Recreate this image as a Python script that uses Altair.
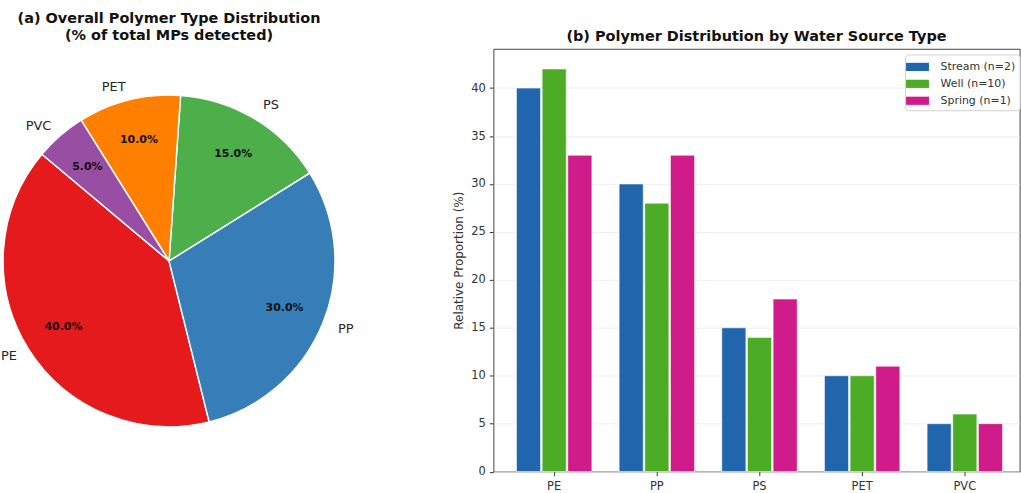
import math
import altair as alt
import pandas as pd

# ---------------- data ----------------
polymers = ["PE", "PP", "PS", "PET", "PVC"]
overall_pct = [40, 30, 15, 10, 5]

sources = ["Stream (n=2)", "Well (n=10)", "Spring (n=1)"]
stream_vals = [40, 30, 15, 10, 5]
well_vals = [42, 28, 14, 10, 6]
spring_vals = [33, 33, 18, 11, 5]

y_ticks = [0, 5, 10, 15, 20, 25, 30, 35, 40]

pie_colors = ["#e41a1c", "#377eb8", "#4daf4a", "#ff7f00", "#984ea3"]
bar_colors = ["#2166ac", "#4dac26", "#d01c8b"]

FONT = "DejaVu Sans"
START_DEG = 310
START = math.radians(START_DEG)

pie_df = pd.DataFrame({"polymer": polymers, "pct": overall_pct, "idx": list(range(len(polymers)))})

rows = []
for s, vals in zip(sources, [stream_vals, well_vals, spring_vals]):
    for p, v in zip(polymers, vals):
        rows.append({"polymer": p, "source": s, "value": v})
bar_df = pd.DataFrame(rows)

# ---------------- pie ----------------
R = 166.6
base = alt.Chart(pie_df).encode(
    theta=alt.Theta("pct:Q", stack=True,
                    scale=alt.Scale(range=[START, START + 2 * math.pi])),
    order=alt.Order("idx:Q", sort="descending"),
)

arcs = base.mark_arc(outerRadius=R, stroke="white", strokeWidth=1.5).encode(
    color=alt.Color("polymer:N", scale=alt.Scale(domain=polymers, range=pie_colors), legend=None)
)

pct_text = base.mark_text(radius=125, fontWeight="bold", fontSize=11, color="#111",
                          font=FONT).encode(
    text="pct_label:N"
).transform_calculate(pct_label="format(datum.pct, '.1f') + '%'")

side = (
    base.transform_joinaggregate(total="sum(pct)")
    .transform_window(cum="sum(pct)", sort=[alt.SortField("idx", order="descending")])
    .transform_calculate(
        mid=f"({START_DEG} + (datum.cum - datum.pct / 2) / datum.total * 360) * PI / 180"
    )
    .transform_calculate(
        lbl_left="sin(datum.mid) < 0 ? datum.polymer : ''",
        lbl_right="sin(datum.mid) >= 0 ? datum.polymer : ''",
    )
)
lab_left = side.mark_text(radius=180, align="right", baseline="middle", fontSize=13,
                          color="#262626", font=FONT).encode(text="lbl_left:N")
lab_right = side.mark_text(radius=183, align="left", baseline="middle", fontSize=13,
                           color="#262626", font=FONT).encode(text="lbl_right:N")

pie = alt.layer(arcs, pct_text, lab_left, lab_right).properties(
    width=333.4,
    height=426,
    title=alt.TitleParams(
        text=["(a) Overall Polymer Type Distribution", "(% of total MPs detected)"],
        fontSize=14.5, fontWeight="bold", font=FONT, color="#111",
        lineHeight=17, anchor="middle", frame="group", baseline="bottom", offset=-9,
    ),
)

# ---------------- bars ----------------
bars = alt.Chart(bar_df).mark_bar(stroke="white", strokeWidth=0.6).encode(
    x=alt.X("polymer:N", sort=polymers,
            scale=alt.Scale(paddingInner=0.25, paddingOuter=0.188, align=0.578),
            axis=alt.Axis(title=None, labelAngle=0, labelFontSize=11.5, labelColor="#333",
                          labelFont=FONT, tickColor="#333", tickSize=4, domain=False,
                          grid=False, labelPadding=5, bandPosition=0.5)),
    xOffset=alt.XOffset("source:N", sort=sources,
                        scale=alt.Scale(paddingInner=0.06, paddingOuter=0.03)),
    y=alt.Y("value:Q", scale=alt.Scale(domain=[0, 44.1], nice=False),
            axis=alt.Axis(values=y_ticks, title="Relative Proportion (%)", titleFontSize=12,
                          titleFontWeight="normal", titleColor="#333", titleFont=FONT,
                          titlePadding=5, labelFontSize=11.5, labelColor="#333", labelFont=FONT,
                          tickColor="#333", tickSize=4, labelPadding=4, domain=False,
                          grid=True, gridColor="#e8e8e8", gridWidth=0.8)),
    color=alt.Color("source:N", sort=sources,
                    scale=alt.Scale(domain=sources, range=bar_colors),
                    legend=alt.Legend(title=None, orient="none", legendX=413.3, legendY=5.7,
                                      symbolType="M-1.4,-0.5L1.4,-0.5L1.4,0.5L-1.4,0.5Z",
                                      symbolSize=270, symbolStrokeWidth=0, symbolOpacity=1,
                                      labelFontSize=11, labelColor="#333", labelFont=FONT,
                                      labelOffset=14.6, rowPadding=3, padding=4,
                                      fillColor="white", strokeColor="#d0d0d0",
                                      cornerRadius=3)),
).properties(
    width=528.3,
    height=424.5,
    title=alt.TitleParams(
        text="(b) Polymer Distribution by Water Source Type",
        fontSize=14.5, fontWeight="bold", font=FONT, color="#111",
        anchor="middle", frame="group", baseline="bottom", offset=-10,
    ),
    view=alt.ViewBackground(stroke="#444", strokeWidth=1),
)

chart = alt.hconcat(pie, bars, spacing=158.3, bounds="flush").resolve_scale(
    color="independent"
).properties(
    padding={"left": 0, "top": 10, "right": 0, "bottom": 0},
    background="white",
).configure(font=FONT).configure_view(stroke=None)

chart.save("out.html", embed_options={"renderer": "svg", "actions": False})
